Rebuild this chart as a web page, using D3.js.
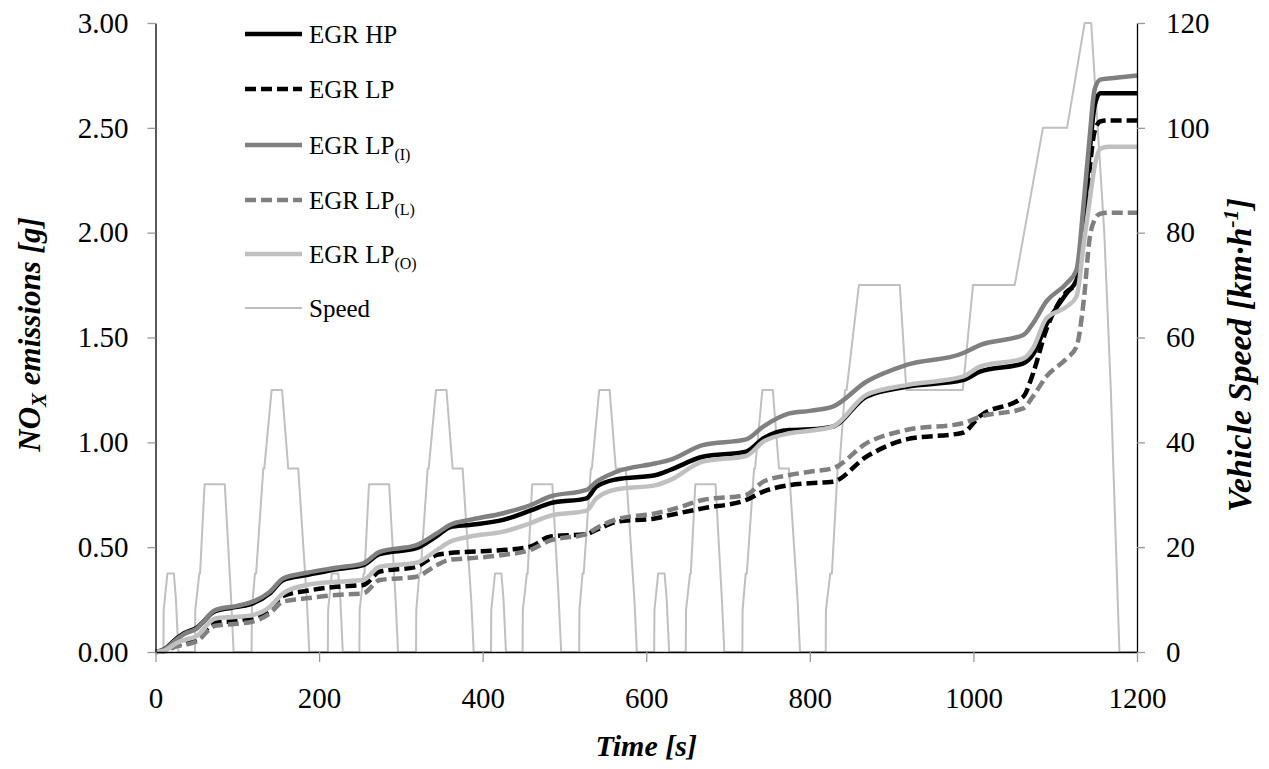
<!DOCTYPE html>
<html>
<head>
<meta charset="utf-8">
<script src="https://cdn.jsdelivr.net/npm/d3@7"></script>
<style>
  html, body { margin: 0; padding: 0; background: #fff; }
  svg { display: block; }
</style>
</head>
<body>
<svg id="chart" width="1269" height="769"></svg>
<script>
// ---------------- DATA ----------------
// Vehicle speed profile (time s, speed km/h)
const speedTime = [
  0, 9.7, 10, 14.6, 22.4, 25, 28,
  48.3, 48.6, 53.6, 54.5, 60, 84.7, 92.5, 95.5,
  117.5, 117.8, 121.6, 123, 131.8, 133, 142, 154.7, 162.3, 174.5, 185, 188,
  210.7, 211, 215.6, 223.4, 226, 229,
  249.3, 249.6, 254.6, 255.5, 261, 285.7, 293.5, 296.5,
  318.5, 318.8, 322.6, 324, 332.8, 334, 343, 355.7, 363.3, 375.5, 386, 389,
  410.2, 410.5, 415.1, 422.9, 425.5, 428.5,
  448.8, 449.1, 454.1, 455, 460.5, 485.2, 493, 496,
  518, 518.3, 522.1, 523.5, 532.3, 533.5, 542.5, 555.2, 562.8, 575, 585.5, 588.5,
  609.7, 610, 614.6, 622.4, 625, 628,
  648.3, 648.6, 653.6, 654.5, 660, 684.7, 692.5, 695.5,
  717.5, 717.8, 721.6, 723, 731.8, 733, 742, 754.7, 762.3, 774.5, 785, 788,
  819.4, 819.7, 825, 827, 834, 836, 843, 845, 860, 910, 918, 987, 999.5, 1050.5,
  1085, 1114.5, 1136, 1144, 1160, 1168, 1178.5, 1200
];
const speedKmh = [
  0, 0, 8, 15, 15, 10, 0,
  0, 8, 15, 15, 32, 32, 10, 0,
  0, 8, 15, 15, 35, 35, 50, 50, 35, 35, 10, 0,
  0, 8, 15, 15, 10, 0,
  0, 8, 15, 15, 32, 32, 10, 0,
  0, 8, 15, 15, 35, 35, 50, 50, 35, 35, 10, 0,
  0, 8, 15, 15, 10, 0,
  0, 8, 15, 15, 32, 32, 10, 0,
  0, 8, 15, 15, 35, 35, 50, 50, 35, 35, 10, 0,
  0, 8, 15, 15, 10, 0,
  0, 8, 15, 15, 32, 32, 10, 0,
  0, 8, 15, 15, 35, 35, 50, 50, 35, 35, 10, 0,
  0, 8, 15, 15, 35, 35, 50, 50, 70, 70, 50, 50, 70, 70,
  100, 100, 120, 120, 80, 50, 0, 0
];

// Cumulative NOx emissions (g)
const noxTime = [0, 10, 26, 35, 50, 73, 100, 119, 140, 156, 185, 221, 254, 274, 319, 344, 360, 384, 425, 458,
  482, 527, 539, 564, 612, 629, 669, 722, 743, 775, 800, 828, 869, 918, 987, 1008, 1061, 1073, 1089, 1114,
  1126, 1135, 1142, 1148, 1155, 1165, 1200];
const egrHP = [0, 0.012, 0.065, 0.09, 0.115, 0.195, 0.215, 0.232, 0.28, 0.343, 0.367, 0.395, 0.415, 0.467, 0.495,
  0.553, 0.595, 0.606, 0.63, 0.674, 0.709, 0.733, 0.788, 0.824, 0.844, 0.868, 0.931, 0.955, 1.019, 1.059,
  1.062, 1.075, 1.218, 1.265, 1.297, 1.337, 1.377, 1.42, 1.56, 1.711, 1.774, 2.05, 2.38, 2.6, 2.665, 2.665, 2.665];
const egrLP = [0, 0.005, 0.03, 0.045, 0.06, 0.14, 0.148, 0.165, 0.2, 0.267, 0.292, 0.311, 0.32, 0.383, 0.407,
  0.463, 0.472, 0.478, 0.486, 0.502, 0.55, 0.563, 0.582, 0.621, 0.638, 0.653, 0.685, 0.725, 0.765, 0.796,
  0.805, 0.812, 0.931, 1.014, 1.046, 1.125, 1.218, 1.33, 1.536, 1.718, 1.758, 2.0, 2.3, 2.48, 2.53, 2.535, 2.535];
const egrLPI = [0, 0.01, 0.06, 0.085, 0.11, 0.2, 0.22, 0.24, 0.288, 0.351, 0.378, 0.402, 0.423, 0.478, 0.51,
  0.566, 0.606, 0.63, 0.662, 0.70, 0.741, 0.773, 0.812, 0.86, 0.90, 0.916, 0.987, 1.014, 1.075, 1.138,
  1.15, 1.17, 1.289, 1.369, 1.425, 1.464, 1.512, 1.568, 1.671, 1.758, 1.822, 2.15, 2.45, 2.68, 2.73, 2.735, 2.75];
const egrLPL = [0, 0.003, 0.028, 0.033, 0.05, 0.125, 0.135, 0.145, 0.185, 0.24, 0.256, 0.272, 0.28, 0.343, 0.359,
  0.415, 0.44, 0.447, 0.463, 0.486, 0.531, 0.563, 0.59, 0.633, 0.662, 0.677, 0.725, 0.749, 0.812, 0.844,
  0.86, 0.876, 0.995, 1.059, 1.091, 1.122, 1.162, 1.22, 1.313, 1.40, 1.456, 1.68, 1.97, 2.06, 2.09, 2.095, 2.095];
const egrLPO = [0, 0.005, 0.043, 0.057, 0.075, 0.16, 0.168, 0.176, 0.216, 0.28, 0.32, 0.335, 0.343, 0.407, 0.426,
  0.486, 0.526, 0.55, 0.574, 0.614, 0.649, 0.674, 0.733, 0.776, 0.796, 0.82, 0.908, 0.935, 1.003, 1.043,
  1.055, 1.075, 1.226, 1.273, 1.313, 1.361, 1.40, 1.45, 1.59, 1.647, 1.695, 1.95, 2.15, 2.31, 2.40, 2.41, 2.41];

const xTicks = [0, 200, 400, 600, 800, 1000, 1200];
const yLeftTicks = [0, 0.5, 1.0, 1.5, 2.0, 2.5, 3.0];
const yRightTicks = [0, 20, 40, 60, 80, 100, 120];

const seriesNames = ["EGR HP", "EGR LP", "EGR LP(I)", "EGR LP(L)", "EGR LP(O)"];

// ---------------- LAYOUT ----------------
const FONT = "'Liberation Serif', 'Times New Roman', Times, 'DejaVu Serif', serif";
const svg = d3.select("#chart").style("font-family", FONT);
svg.append("rect").attr("width", 1269).attr("height", 769).attr("fill", "#fff");

const L = 155.5, R = 1137, T = 23, B = 652;
const x = d3.scaleLinear().domain([0, 1200]).range([L, R]);
const yL = d3.scaleLinear().domain([0, 3]).range([B, T]);
const yR = d3.scaleLinear().domain([0, 120]).range([B, T]);

const styles = [
  { color: "#000000", dash: null },
  { color: "#000000", dash: "11,5" },
  { color: "#808080", dash: null },
  { color: "#808080", dash: "11,5" },
  { color: "#c0c0c0", dash: null }
];
const seriesData = [egrHP, egrLP, egrLPI, egrLPL, egrLPO];

// Speed line (secondary axis) - drawn behind
const speedPts = speedTime.map((t, i) => [t, speedKmh[i]]);
svg.append("path")
  .datum(speedPts)
  .attr("fill", "none")
  .attr("stroke", "#c0c0c0")
  .attr("stroke-width", 2)
  .attr("stroke-linejoin", "round")
  .attr("d", d3.line().x(d => x(d[0])).y(d => yR(d[1])));

// NOx lines
const noxLine = d3.line().x(d => x(d[0])).y(d => yL(d[1])).curve(d3.curveMonotoneX);
seriesData.forEach((vals, k) => {
  const pts = noxTime.map((t, i) => [t, vals[i]]);
  const p = svg.append("path")
    .datum(pts)
    .attr("fill", "none")
    .attr("stroke", styles[k].color)
    .attr("stroke-width", 4.5)
    .attr("d", noxLine);
  if (styles[k].dash) p.attr("stroke-dasharray", styles[k].dash);
});

// ---------------- AXES ----------------
const tickFont = 29;
function styleAxis(g) {
  g.attr("font-family", null).attr("font-size", null);
  g.selectAll(".domain").attr("stroke", "#000").attr("stroke-width", 1.3);
  g.selectAll(".tick line").attr("stroke", "#9a9a9a").attr("stroke-width", 1.3);
  g.selectAll(".tick text")
    .style("font-family", FONT)
    .style("font-size", tickFont + "px")
    .attr("fill", "#000");
}

svg.append("g")
  .attr("transform", `translate(${L},0)`)
  .call(d3.axisLeft(yL).tickValues(yLeftTicks).tickFormat(d3.format(".2f")).tickSize(8).tickSizeOuter(0).tickPadding(19))
  .call(styleAxis);

svg.append("g")
  .attr("transform", `translate(${R},0)`)
  .call(d3.axisRight(yR).tickValues(yRightTicks).tickFormat(d3.format("d")).tickSize(8).tickSizeOuter(0).tickPadding(21))
  .call(styleAxis);

svg.append("g")
  .attr("transform", `translate(0,${B})`)
  .call(d3.axisBottom(x).tickValues(xTicks).tickFormat(d3.format("d")).tickSize(10).tickSizeOuter(0).tickPadding(25))
  .call(styleAxis);

// ---------------- TITLES ----------------
svg.append("text")
  .attr("x", (L + R) / 2).attr("y", 756)
  .attr("text-anchor", "middle")
  .style("font-family", FONT)
  .attr("font-size", 30).attr("font-weight", "bold").attr("font-style", "italic")
  .text("Time [s]");

const ylt = svg.append("text")
  .attr("transform", `translate(40,${(T + B) / 2 - 3}) rotate(-90)`)
  .attr("text-anchor", "middle")
  .style("font-family", FONT)
  .attr("font-size", 31).attr("font-weight", "bold").attr("font-style", "italic");
ylt.append("tspan").text("NO");
ylt.append("tspan").attr("font-size", 21).attr("dy", 6).text("X");
ylt.append("tspan").attr("dy", -6).text(" emissions [g]");

const yrt = svg.append("text")
  .attr("transform", `translate(1251,355) rotate(-90)`)
  .attr("text-anchor", "middle")
  .style("font-family", FONT)
  .attr("font-size", 34).attr("font-weight", "bold").attr("font-style", "italic");
yrt.append("tspan").text("Vehicle Speed [km\u00b7h");
yrt.append("tspan").attr("font-size", 22).attr("dy", -13).text("-1");
yrt.append("tspan").attr("dy", 13).text("]");

// ---------------- LEGEND ----------------
const legendY = [34, 89, 145, 200, 254, 308];
const legendItems = [
  { main: "EGR HP", sub: null, color: "#000000", dash: null, w: 4.5 },
  { main: "EGR LP", sub: null, color: "#000000", dash: "11,5", w: 4.5 },
  { main: "EGR LP", sub: "(I)", color: "#808080", dash: null, w: 4.5 },
  { main: "EGR LP", sub: "(L)", color: "#808080", dash: "11,5", w: 4.5 },
  { main: "EGR LP", sub: "(O)", color: "#c0c0c0", dash: null, w: 4.5 },
  { main: "Speed", sub: null, color: "#c0c0c0", dash: null, w: 2 }
];
const lg = svg.append("g");
legendItems.forEach((it, i) => {
  const yy = legendY[i];
  const ln = lg.append("line")
    .attr("x1", 245).attr("x2", 302).attr("y1", yy).attr("y2", yy)
    .attr("stroke", it.color).attr("stroke-width", it.w);
  if (it.dash) ln.attr("stroke-dasharray", it.dash);
  const tx = lg.append("text")
    .attr("x", 309).attr("y", yy + 9)
    .style("font-family", FONT)
    .attr("font-size", 25);
  tx.append("tspan").text(it.main);
  if (it.sub) tx.append("tspan").attr("font-size", 16).attr("dy", 6).text(it.sub);
});
</script>
</body>
</html>
